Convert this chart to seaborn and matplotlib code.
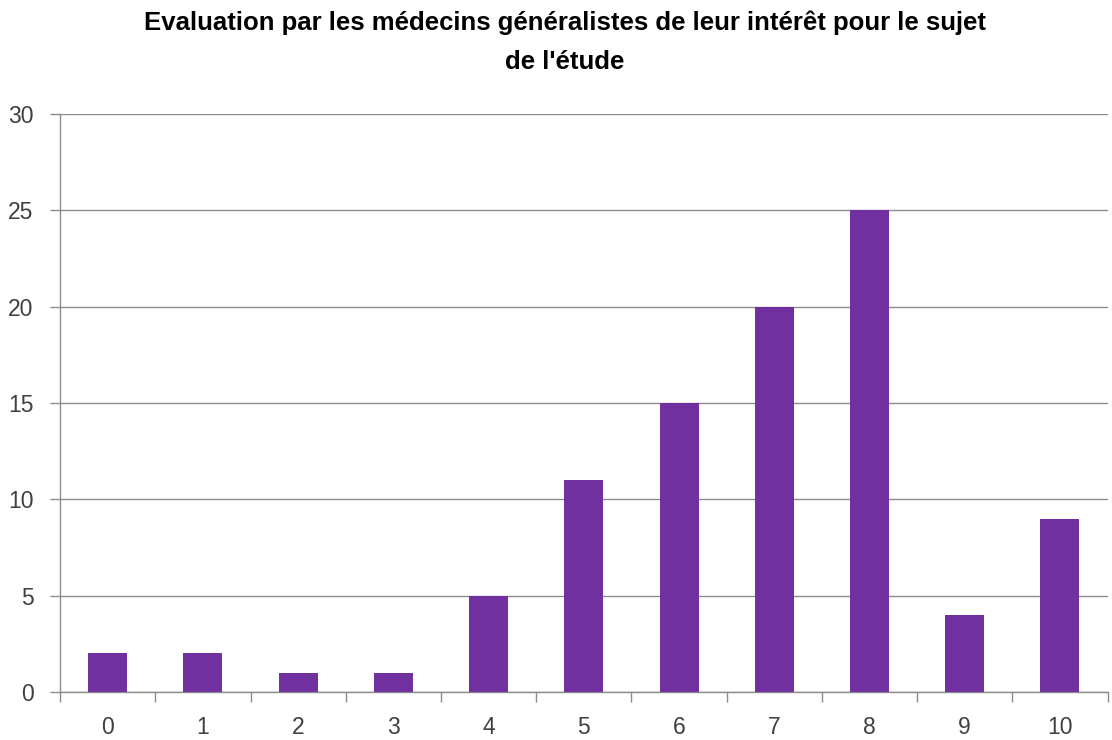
import pandas as pd
import seaborn as sns
import matplotlib.pyplot as plt
from matplotlib.ticker import FixedLocator

notes = ["0", "1", "2", "3", "4", "5", "6", "7", "8", "9", "10"]
effectifs = [2, 2, 1, 1, 5, 11, 15, 20, 25, 4, 9]

df = pd.DataFrame({"note": notes, "effectif": effectifs})

sns.set_style("white")
plt.rcParams['font.family'] = ['Liberation Sans', 'DejaVu Sans']

fig = plt.figure(figsize=(11.12, 7.40), dpi=100)
ax = fig.add_axes([0.054, 0.065, 0.942, 0.781])

sns.barplot(data=df, x="note", y="effectif", color="#7030A0", width=0.41,
            saturation=1, linewidth=0, ax=ax, zorder=3)

ax.set_ylim(0, 30)
ax.set_xlim(-0.5, len(notes) - 0.5)
ax.set_yticks(range(0, 31, 5))
ax.yaxis.grid(True, color="#8c8c8c", linewidth=1, zorder=0)
ax.set_xlabel("")
ax.set_ylabel("")

# ticks between categories, as in the spreadsheet chart
ax.xaxis.set_minor_locator(FixedLocator([i - 0.5 for i in range(len(notes) + 1)]))
ax.tick_params(axis="x", which="major", length=0, labelsize=16.5, pad=17, labelcolor="#404040")
ax.tick_params(axis="x", which="minor", length=7, color="#8c8c8c", width=1, bottom=True)
ax.tick_params(axis="y", length=7, color="#8c8c8c", width=1, labelsize=16.5,
               pad=12, labelcolor="#404040", left=True)

for side in ["top", "right"]:
    ax.spines[side].set_visible(False)
for side in ["left", "bottom"]:
    ax.spines[side].set_color("#8c8c8c")
    ax.spines[side].set_linewidth(1)

fig.text(0.508, 0.943,
         "Evaluation par les médecins généralistes de leur intérêt pour le sujet\nde l'étude",
         ha="center", va="center", fontsize=18.5, fontweight="bold",
         linespacing=1.75, color="black")

fig.savefig("out.png", dpi=100)
